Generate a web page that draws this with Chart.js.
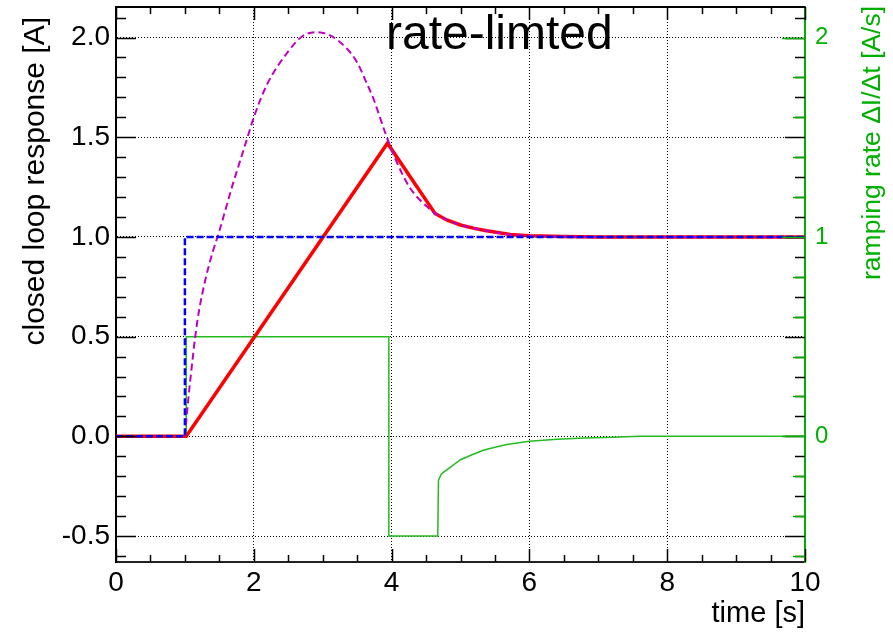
<!DOCTYPE html>
<html>
<head>
<meta charset="utf-8">
<script src="https://cdn.jsdelivr.net/npm/chart.js@4.4.1/dist/chart.umd.min.js"></script>
<style>
  html, body { margin: 0; padding: 0; background: #fff; }
  canvas { display: block; }
</style>
</head>
<body>
<canvas id="rate" width="893" height="632"></canvas>
<script>
// reference current: unit step at t = 1 s
const stepT = [0, 1.0, 1.0, 10];
const stepI = [0, 0, 1, 1];

// closed loop response without rate limit
const freeT = [1.0, 1.05, 1.1, 1.15, 1.2, 1.3, 1.4, 1.5, 1.6, 1.7, 1.8, 1.9, 2.0, 2.2, 2.5,
  2.7, 2.9, 3.1, 3.35, 3.5, 3.64, 3.74, 3.83, 3.91, 4.05, 4.27, 4.54, 4.63, 5.0, 5.38,
  5.72, 6.0, 6.5, 7.0, 10];
const freeI = [0, 0.19, 0.35, 0.5, 0.62, 0.79, 0.92, 1.03, 1.15, 1.27, 1.38, 1.49, 1.6, 1.77, 1.93,
  2.005, 2.027, 2.012, 1.945, 1.875, 1.77, 1.69, 1.6, 1.52, 1.395, 1.244, 1.144, 1.118, 1.06, 1.031,
  1.012, 1.006, 1.002, 1.0, 1.0];

// rate-limited response
const limT = [0, 1.02, 3.94, 4.63, 4.8, 5.0, 5.2, 5.38, 5.72, 6.0, 6.5, 7.0, 10];
const limI = [0, 0, 1.47, 1.118, 1.085, 1.06, 1.043, 1.031, 1.012, 1.006, 1.002, 1.0, 1.0];

// ramping rate dI/dt [A/s]
const rateT = [0, 1.02, 1.02, 3.96, 3.96, 4.67, 4.68, 4.72, 4.76, 4.85, 5.0, 5.15, 5.33, 5.5,
  5.67, 6.0, 6.4, 6.8, 7.2, 7.6, 10];
const rateV = [0, 0, 0.5, 0.5, -0.5, -0.5, -0.22, -0.19, -0.178, -0.155, -0.117, -0.095, -0.07, -0.055,
  -0.041, -0.025, -0.015, -0.008, -0.004, 0, 0];

// axis ticks
const timeTicks = [0, 2, 4, 6, 8, 10];
const respTicks = [-0.5, 0, 0.5, 1.0, 1.5, 2.0];
const rateTicks = [0, 1, 2];

const FONT = '"Liberation Sans", Arial, Helvetica, sans-serif';
const GREEN = '#00b000';
const Y_MIN = -0.63, Y_MAX = 2.153;

const pts = (xs, ys) => xs.map((x, i) => ({ x, y: ys[i] }));

// keep the plot frame where it is, no room for overhanging labels
const fixBox = (w, h) => s => {
  if (w) s.width = w;
  if (h) s.height = h;
  s.paddingTop = s.paddingBottom = s.paddingLeft = s.paddingRight = 0;
};

// inward ticks on all four sides, top frame line and the titles
const frameDecor = {
  id: 'frameDecor',
  afterDatasetsDraw(chart) {
    const { ctx, chartArea: a, scales: { x, y } } = chart;
    const seg = (x1, y1, x2, y2) => { ctx.beginPath(); ctx.moveTo(x1, y1); ctx.lineTo(x2, y2); ctx.stroke(); };
    ctx.save();
    ctx.lineWidth = 1.5;
    ctx.strokeStyle = '#000';
    for (let i = 0; i <= 20; i++) {
      const px = Math.round(x.getPixelForValue(i * 0.5)) + 0.5;
      const len = i % 4 === 0 ? 13 : 7;
      seg(px, a.bottom, px, a.bottom - len);
      seg(px, a.top, px, a.top + len);
    }
    for (let i = -6; i <= 21; i++) {
      const py = Math.round(y.getPixelForValue(i / 10)) + 0.5;
      const len = i % 5 === 0 ? 20 : 10;
      seg(a.left, py, a.left + len, py);
      seg(a.right, py, a.right - len, py);
    }
    // right axis (ramping rate) ticks
    ctx.strokeStyle = GREEN;
    for (let i = -3; i <= 10; i++) {
      const py = Math.round(y.getPixelForValue(i / 5)) + 0.5;
      const len = i % 5 === 0 ? 23 : 12;
      seg(a.right, py, a.right - len, py);
    }
    // top frame
    ctx.strokeStyle = '#000';
    ctx.lineWidth = 2;
    seg(a.left - 1, a.top, a.right, a.top);
    ctx.restore();
  },
  afterDraw(chart) {
    const { ctx, chartArea: a } = chart;
    ctx.save();
    ctx.fillStyle = '#000';
    ctx.textBaseline = 'alphabetic';

    ctx.font = '48px ' + FONT;
    ctx.textAlign = 'left';
    ctx.fillText('rate-limted', 386, 49);

    ctx.font = '29px ' + FONT;
    ctx.textAlign = 'right';
    ctx.fillText('time [s]', a.right, 622);

    ctx.save();
    ctx.translate(44, 17);
    ctx.rotate(-Math.PI / 2);
    ctx.font = '30px ' + FONT;
    ctx.textAlign = 'right';
    ctx.fillText('closed loop response [A]', 0, 0);
    ctx.restore();

    ctx.save();
    ctx.translate(880, 6);
    ctx.rotate(-Math.PI / 2);
    ctx.font = '26.5px ' + FONT;
    ctx.fillStyle = GREEN;
    ctx.textAlign = 'right';
    ctx.fillText('ramping rate \u0394I/\u0394t [A/s]', 0, 0);
    ctx.restore();

    ctx.restore();
  }
};

const dotted = { color: '#000', lineWidth: 1, drawTicks: false };

new Chart(document.getElementById('rate'), {
  type: 'line',
  data: {
    datasets: [
      {
        label: 'step',
        data: pts(stepT, stepI),
        borderColor: '#0000ff',
        borderWidth: 2.5,
        borderDash: [7, 3],
        yAxisID: 'y'
      },
      {
        label: 'unlimited',
        data: pts(freeT, freeI),
        borderColor: '#c000c0',
        borderWidth: 2,
        borderDash: [7, 4],
        cubicInterpolationMode: 'monotone',
        yAxisID: 'y'
      },
      {
        label: 'rate-limited',
        data: pts(limT, limI),
        borderColor: '#ff0000',
        borderWidth: 3.5,
        yAxisID: 'y'
      },
      {
        label: 'ramping rate',
        data: pts(rateT, rateV),
        borderColor: '#22bb22',
        borderWidth: 1.5,
        yAxisID: 'y2'
      }
    ]
  },
  options: {
    responsive: false,
    animation: false,
    devicePixelRatio: 1,
    layout: { padding: { top: 7, left: 0, right: 0, bottom: 0 } },
    elements: { point: { radius: 0 }, line: { fill: false } },
    plugins: { legend: { display: false }, tooltip: { enabled: false } },
    scales: {
      x: {
        type: 'linear',
        min: 0, max: 10,
        afterBuildTicks: s => { s.ticks = timeTicks.map(v => ({ value: v })); },
        afterFit: fixBox(0, 70),
        ticks: { color: '#000', font: { family: FONT, size: 28 }, padding: 4, maxRotation: 0 },
        grid: dotted,
        border: { display: true, color: '#222', width: 2, dash: [1, 2] }
      },
      y: {
        type: 'linear',
        min: Y_MIN, max: Y_MAX,
        afterBuildTicks: s => { s.ticks = respTicks.map(v => ({ value: v })); },
        afterFit: fixBox(116, 0),
        ticks: { color: '#000', font: { family: FONT, size: 28 }, padding: 6, callback: v => v.toFixed(1) },
        grid: dotted,
        border: { display: true, color: '#000', width: 2, dash: [1, 2] }
      },
      y2: {
        type: 'linear',
        position: 'right',
        min: Y_MIN, max: Y_MAX,
        afterBuildTicks: s => { s.ticks = rateTicks.map(v => ({ value: v })); },
        afterFit: fixBox(88, 0),
        ticks: { color: GREEN, font: { family: FONT, size: 24 }, padding: 10, callback: v => String(v) },
        grid: { display: false, drawTicks: false },
        border: { display: true, color: GREEN, width: 2 }
      }
    }
  },
  plugins: [frameDecor]
});
</script>
</body>
</html>
